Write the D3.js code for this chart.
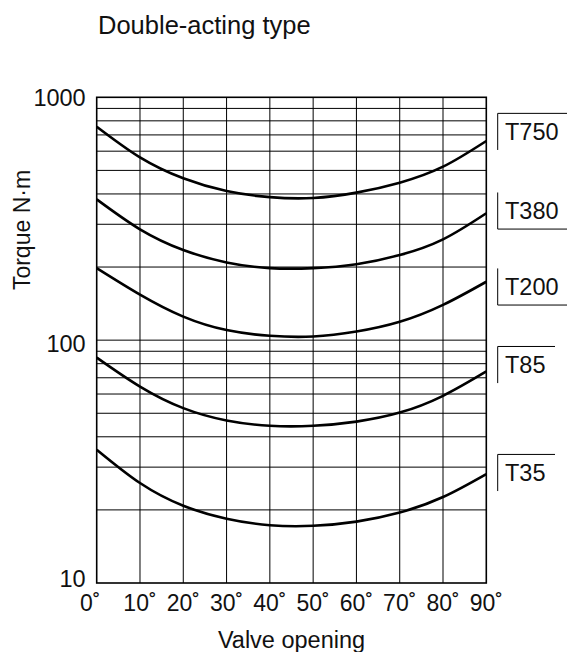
<!DOCTYPE html>
<html>
<head>
<meta charset="utf-8">
<script src="https://cdn.jsdelivr.net/npm/d3@7"></script>
<style>
  html, body { margin: 0; padding: 0; background: #fff; }
  svg { display: block; }
  text { font-family: "Liberation Sans", Arial, Helvetica, sans-serif; fill: #111; }
</style>
</head>
<body>
<svg id="chart" width="567" height="652"></svg>
<script>
// ---- data ----
const title = "Double-acting type";
const xTitle = "Valve opening";
const yTitle = "Torque N·m";
const angles = [0, 10, 20, 30, 40, 50, 60, 70, 80, 90];
const seriesNames = ["T750", "T380", "T200", "T85", "T35"];
const T750 = [757, 566, 464, 411, 388, 385, 405, 445, 518, 661];
const T380 = [380, 286, 235, 209, 198, 198, 205.5, 224, 260, 333];
const T200 = [198, 154, 125, 110, 104.2, 103.5, 108.5, 119, 139.7, 174];
const T85  = [84.8, 64.4, 52.5, 46.7, 44.4, 44.4, 46.2, 50.3, 59, 74.3];
const T35  = [35.4, 25.8, 20.8, 18.4, 17.3, 17.2, 17.9, 19.5, 22.6, 28.1];
const yTickLabels = [10, 100, 1000];
const yGridValues = [20, 30, 40, 50, 60, 70, 80, 90, 100, 200, 300, 400, 500, 600, 700, 800, 900];
const xTickValues = [0, 10, 20, 30, 40, 50, 60, 70, 80, 90];

const seriesValues = [T750, T380, T200, T85, T35];

(function () {
// ---- layout ----
const svg = d3.select("#chart");
const pLeft = 96.7, pRight = 486.3, pTop = 97.3, pBottom = 583;

const x = d3.scaleLinear().domain([0, 90]).range([pLeft, pRight]);
const y = d3.scaleLog().domain([10, 1000]).range([pBottom, pTop]);

// title
svg.append("text").attr("x", 98).attr("y", 33.5)
  .style("font-size", "25.5px").text(title);

// grid
const grid = svg.append("g");
grid.selectAll("line.h").data(yGridValues).enter().append("line")
  .attr("x1", pLeft).attr("x2", pRight)
  .attr("y1", d => y(d)).attr("y2", d => y(d))
  .attr("stroke", "#000").attr("stroke-width", 1);
grid.selectAll("line.v").data(xTickValues.slice(1, -1)).enter().append("line")
  .attr("y1", pTop).attr("y2", pBottom)
  .attr("x1", d => x(d)).attr("x2", d => x(d))
  .attr("stroke", "#000").attr("stroke-width", 1);

// frame
svg.append("rect").attr("x", pLeft).attr("y", pTop)
  .attr("width", pRight - pLeft).attr("height", pBottom - pTop)
  .attr("fill", "none").attr("stroke", "#000").attr("stroke-width", 1.6);

// y tick labels
const yLabelNudge = {10: -4.5, 100: 3.5, 1000: 0};
svg.append("g").selectAll("text").data(yTickLabels).enter().append("text")
  .attr("x", pLeft - 11)
  .attr("y", d => y(d) + yLabelNudge[d])
  .attr("dy", "0.36em")
  .attr("text-anchor", "end")
  .style("font-size", "23.5px")
  .text(d => d);

// x tick labels
svg.append("g").selectAll("text").data(xTickValues).enter().append("text")
  .attr("x", d => x(d) + (d === 0 ? -6.4 : 0))
  .attr("y", 611)
  .attr("text-anchor", "middle")
  .style("font-size", "23px")
  .text(d => d + "˚");

// axis titles
svg.append("text").attr("x", (pLeft + pRight) / 2).attr("y", 648)
  .attr("text-anchor", "middle").style("font-size", "23.5px").text(xTitle);
svg.append("text")
  .attr("transform", "translate(30,230) rotate(-90)")
  .attr("text-anchor", "middle").style("font-size", "23px").text(yTitle);

// curves
const line = d3.line()
  .x((d, i) => x(angles[i]))
  .y(d => y(d))
  .curve(d3.curveNatural);

svg.append("g").selectAll("path").data(seriesValues).enter().append("path")
  .attr("d", d => line(d))
  .attr("fill", "none").attr("stroke", "#000").attr("stroke-width", 2.6);

// series labels with bracket lines
const labelDy = {T750: -9.3, T380: -2.5, T200: 5, T85: -6.7, T35: -1.3};
const bracketType = {T750: "top", T380: "bottom", T200: "bottom", T85: "top", T35: "top"};
const bracketEnd = {T750: 567, T380: 567, T200: 567, T85: 555, T35: 555};
const bx = 497.7, half = 18.3;
const lab = svg.append("g");
seriesNames.forEach((name, i) => {
  const vals = seriesValues[i];
  const yc = y(vals[vals.length - 1]) + labelDy[name];
  lab.append("line").attr("x1", bx).attr("x2", bx)
    .attr("y1", yc - half).attr("y2", yc + half)
    .attr("stroke", "#000").attr("stroke-width", 1);
  const yh = bracketType[name] === "top" ? yc - half : yc + half;
  lab.append("line").attr("x1", bx).attr("x2", bracketEnd[name])
    .attr("y1", yh).attr("y2", yh)
    .attr("stroke", "#000").attr("stroke-width", 1);
  lab.append("text").attr("x", 505).attr("y", yc).attr("dy", "0.36em")
    .style("font-size", "23.5px").text(name);
});
})();
</script>
</body>
</html>
